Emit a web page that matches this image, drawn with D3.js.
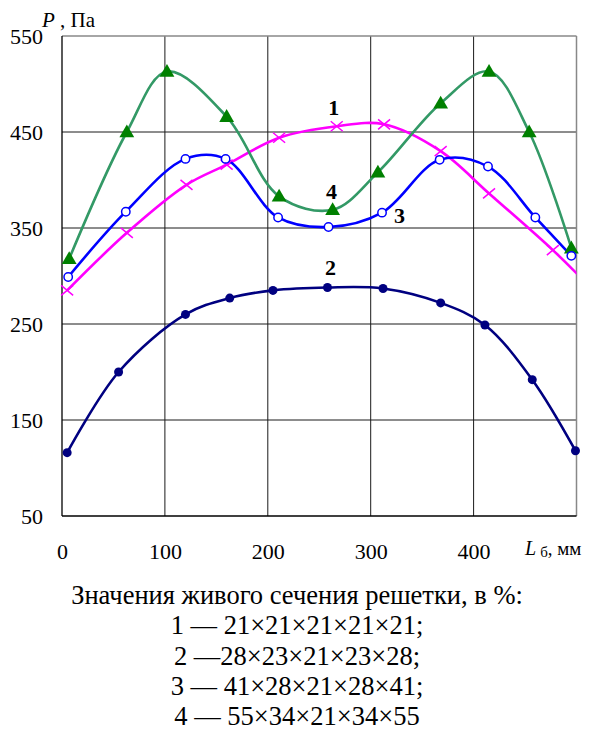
<!DOCTYPE html>
<html>
<head>
<meta charset="utf-8">
<script src="https://cdn.jsdelivr.net/npm/d3@7"></script>
<style>
  body { margin: 0; background: #fff; }
  svg { display: block; }
</style>
</head>
<body>
<svg id="chart" width="593" height="731" font-family="Liberation Serif"></svg>
<script>
// ----- Data ----------------------------------------------------------------
const xTicks = [0, 100, 200, 300, 400];
const yTicks = [50, 150, 250, 350, 450, 550];

// 1 — magenta crosses (last point lies just past the axis end and is clipped)
const s1X = [5, 63, 121, 160, 211, 267, 313, 368, 415, 477, 510];
const s1Y = [285, 345, 395, 416, 444, 456, 458, 430, 386, 327, 292];
// 2 — navy dots
const s2X = [5, 55, 120, 163, 205, 258, 312, 368, 411, 457, 499];
const s2Y = [116, 200, 260, 277, 285, 288, 287, 272, 249, 192, 118];
// 3 — blue open circles
const s3X = [6, 62, 120, 159, 210, 259, 311, 367, 414, 460, 495];
const s3Y = [299, 367, 422, 422, 361, 351, 366, 421, 414, 361, 321];
// 4 — green triangles
const s4X = [7, 63, 102, 160, 211, 263, 307, 368, 415, 454, 495];
const s4Y = [318, 450, 513, 466, 383, 369, 408, 480, 513, 450, 329];

const seriesLabels = [
  { name: "1", x: 264, y: 476 },
  { name: "2", x: 261, y: 309 },
  { name: "3", x: 328, y: 363 },
  { name: "4", x: 262, y: 388 }
];

const captionLines = [
  "Значения живого сечения решетки, в %:",
  "1 — 21×21×21×21×21;",
  "2 —28×23×21×23×28;",
  "3 — 41×28×21×28×41;",
  "4 — 55×34×21×34×55"
];

const FONT = "Liberation Serif";

// ----- Layout ----------------------------------------------------------------
const svg = d3.select("#chart");
const plot = { left: 62, right: 576.5, top: 36, bottom: 516 };

const x = d3.scaleLinear().domain([0, 500]).range([plot.left, plot.right]);
const y = d3.scaleLinear().domain([50, 550]).range([plot.bottom, plot.top]);

svg.append("defs").append("clipPath").attr("id", "plot-clip")
  .append("rect")
  .attr("x", plot.left).attr("y", plot.top)
  .attr("width", plot.right - plot.left).attr("height", plot.bottom - plot.top);

// grid
const grid = svg.append("g");
grid.selectAll("line.v")
  .data(xTicks.filter((d) => d > 0))
  .join("line")
  .attr("x1", (d) => x(d)).attr("x2", (d) => x(d))
  .attr("y1", plot.top).attr("y2", plot.bottom)
  .attr("stroke", "#1a1a1a").attr("stroke-width", 1);
grid.selectAll("line.h")
  .data(yTicks.filter((d) => d > 50 && d < 550))
  .join("line")
  .attr("x1", plot.left).attr("x2", plot.right)
  .attr("y1", (d) => y(d)).attr("y2", (d) => y(d))
  .attr("stroke", "#1a1a1a").attr("stroke-width", 1);

// frame: top/right grey, left/bottom black
grid.append("line").attr("x1", plot.left).attr("x2", plot.right).attr("y1", plot.top).attr("y2", plot.top)
  .attr("stroke", "#888").attr("stroke-width", 1.5);
grid.append("line").attr("x1", plot.right).attr("x2", plot.right).attr("y1", plot.top).attr("y2", plot.bottom)
  .attr("stroke", "#888").attr("stroke-width", 1.5);
grid.append("line").attr("x1", plot.left).attr("x2", plot.left).attr("y1", plot.top).attr("y2", plot.bottom)
  .attr("stroke", "#000").attr("stroke-width", 1.3);
grid.append("line").attr("x1", plot.left).attr("x2", plot.right).attr("y1", plot.bottom).attr("y2", plot.bottom)
  .attr("stroke", "#000").attr("stroke-width", 1.3);

// axes (labels only)
const xAxis = svg.append("g")
  .attr("transform", `translate(0,${plot.bottom + 27})`)
  .call(d3.axisBottom(x).tickValues(xTicks).tickSize(0).tickPadding(0));
const yAxis = svg.append("g")
  .attr("transform", `translate(${plot.left - 19},0)`)
  .call(d3.axisLeft(y).tickValues(yTicks).tickSize(0).tickPadding(0));
[xAxis, yAxis].forEach((a) => {
  a.attr("font-family", FONT);
  a.select(".domain").remove();
  a.selectAll("text")
    .attr("font-family", FONT)
    .attr("font-size", 22)
    .attr("fill", "#000");
});
xAxis.selectAll("text").attr("dy", "0.71em");

// axis titles
const yTitle = svg.append("text").attr("font-family", FONT).attr("x", 42).attr("y", 27).attr("font-size", 21);
yTitle.append("tspan").attr("font-style", "italic").text("P");
yTitle.append("tspan").text(" , Па");

const xTitle = svg.append("text").attr("font-family", FONT).attr("x", 525).attr("y", 555).attr("font-size", 20);
xTitle.append("tspan").attr("font-style", "italic").text("L");
xTitle.append("tspan").attr("font-size", 15).attr("dx", 4).attr("dy", 2).text("б");
xTitle.append("tspan").attr("font-size", 19).attr("dy", -2).text(", мм");

// ----- Series ----------------------------------------------------------------
const toPts = (xs, ys) => xs.map((v, i) => ({ x: v, y: ys[i] }));
const series = [
  { id: 2, pts: toPts(s2X, s2Y), line: "#000080" },
  { id: 1, pts: toPts(s1X, s1Y), line: "#ff00ff" },
  { id: 4, pts: toPts(s4X, s4Y), line: "#339966" },
  { id: 3, pts: toPts(s3X, s3Y), line: "#0000ff" }
];

const lineGen = d3.line()
  .x((d) => x(d.x))
  .y((d) => y(d.y))
  .curve(d3.curveCatmullRom.alpha(0.5));

const lines = svg.append("g").attr("clip-path", "url(#plot-clip)").attr("fill", "none");
lines.selectAll("path")
  .data(series)
  .join("path")
  .attr("d", (d) => lineGen(d.pts))
  .attr("stroke", (d) => d.line)
  .attr("stroke-width", 2.6)
  .attr("stroke-linejoin", "round");

const markers = svg.append("g");
const inDomain = (d) => d.x >= 0 && d.x <= 500;

series.forEach((s) => {
  const g = markers.append("g");
  const pts = s.pts.filter(inDomain);
  if (s.id === 2) {
    g.selectAll("circle").data(pts).join("circle")
      .attr("cx", (d) => x(d.x)).attr("cy", (d) => y(d.y)).attr("r", 4.5)
      .attr("fill", "#000080");
  } else if (s.id === 3) {
    g.selectAll("circle").data(pts).join("circle")
      .attr("cx", (d) => x(d.x)).attr("cy", (d) => y(d.y)).attr("r", 4.2)
      .attr("fill", "#fff").attr("stroke", "#0000ff").attr("stroke-width", 1.5);
  } else if (s.id === 4) {
    g.selectAll("path").data(pts).join("path")
      .attr("d", d3.symbol(d3.symbolTriangle, 95))
      .attr("transform", (d) => `translate(${x(d.x)},${y(d.y) + 1})`)
      .attr("fill", "#008000");
  } else {
    g.selectAll("path").data(pts).join("path")
      .attr("d", "M-6,-5L6,5M-6,5L6,-5")
      .attr("transform", (d) => `translate(${x(d.x)},${y(d.y)})`)
      .attr("stroke", "#ff00ff").attr("stroke-width", 1.5).attr("fill", "none");
  }
});

// curve numbers
svg.append("g").selectAll("text")
  .data(seriesLabels)
  .join("text")
  .attr("font-family", FONT)
  .attr("x", (d) => x(d.x))
  .attr("y", (d) => y(d.y))
  .attr("text-anchor", "middle")
  .attr("dy", "0.35em")
  .attr("font-size", 22)
  .attr("font-weight", "bold")
  .text((d) => d.name);

// caption
svg.append("g").selectAll("text")
  .data(captionLines)
  .join("text")
  .attr("font-family", FONT)
  .attr("x", 297)
  .attr("y", (d, i) => 604 + i * 30.3)
  .attr("text-anchor", "middle")
  .attr("font-size", 26.5)
  .text((d) => d);
</script>
</body>
</html>
